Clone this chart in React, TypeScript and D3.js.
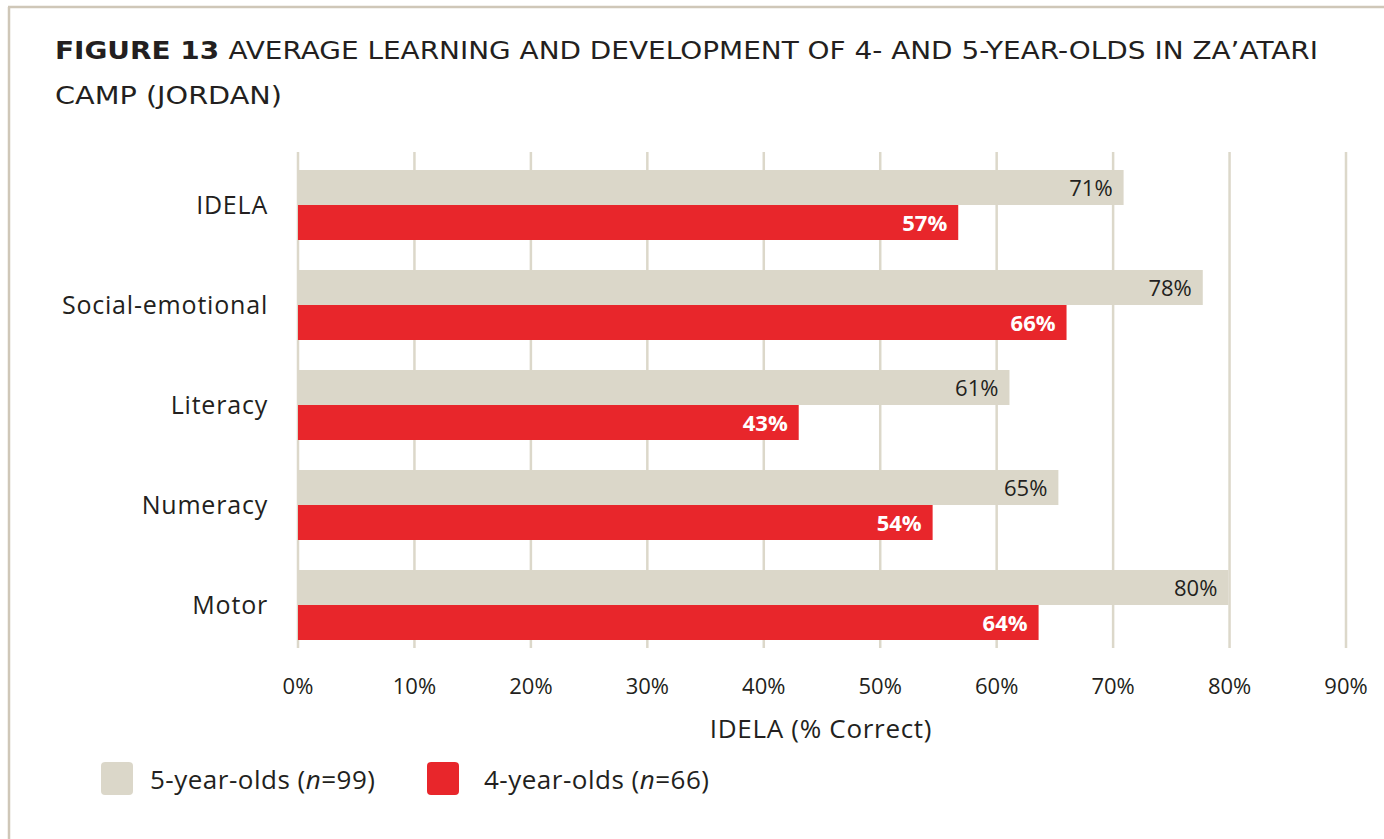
import React from 'react'
import * as d3 from 'd3'

const categories = ['IDELA', 'Social-emotional', 'Literacy', 'Numeracy', 'Motor']
const fiveYear = [70.9, 77.7, 61.1, 65.3, 79.9]
const fourYear = [56.7, 66.0, 43.0, 54.5, 63.6]
const labelsFive = ['71%', '78%', '61%', '65%', '80%']
const labelsFour = ['57%', '66%', '43%', '54%', '64%']
const ticks = [0, 10, 20, 30, 40, 50, 60, 70, 80, 90]
const seriesNames = ['5-year-olds', '4-year-olds']
const seriesN = ['99', '66']

const W = 1384
const H = 839
const GREY = '#dbd7c9'
const RED = '#e8262b'
const INK = '#231f20'
const FONT = '"Open Sans", Lato, sans-serif'
const TITLE_FONT = '"DejaVu Sans", "Open Sans", sans-serif'

export default function App() {
  const x = d3.scaleLinear().domain([0, 90]).range([298, 1346])
  const y = d3.scaleBand<string>()
    .domain(categories)
    .range([155, 655])
    .paddingInner(0.3)
    .paddingOuter(0.15)
  const sub = d3.scaleBand<string>().domain(seriesNames).range([0, y.bandwidth()])
  const colors = [GREY, RED]

  const rows = categories.map((c, i) => ({
    name: c,
    vals: [fiveYear[i], fourYear[i]],
    labels: [labelsFive[i], labelsFour[i]],
  }))

  return (
    <div style={{ position: 'absolute', left: 0, top: 0 }}>
      <svg width={W} height={H} style={{ display: 'block', fontFamily: FONT }}>
        <rect x={0} y={0} width={W} height={H} fill="#fff" />
        {/* frame */}
        <line x1={8} x2={W} y1={7} y2={7} stroke="#cfc7b8" strokeWidth={2.5} />
        <line x1={9} x2={9} y1={7} y2={H} stroke="#cfc7b8" strokeWidth={2.5} />

        <g fontFamily={TITLE_FONT}>
          <text x={55} y={59} fontSize={24} fill={INK} textLength={1263} lengthAdjust="spacingAndGlyphs">
            <tspan fontWeight={700}>FIGURE 13</tspan>
            <tspan dx={8}>AVERAGE LEARNING AND DEVELOPMENT OF 4- AND 5-YEAR-OLDS IN ZA’ATARI</tspan>
          </text>
          <text x={55} y={104} fontSize={24} fill={INK} textLength={227} lengthAdjust="spacingAndGlyphs">CAMP (JORDAN)</text>
        </g>

        {/* grid */}
        {ticks.map((t) => (
          <g key={t}>
            <line x1={x(t)} x2={x(t)} y1={152} y2={648} stroke="#dcd8ca" strokeWidth={2.5} />
            <text x={x(t)} y={694} textAnchor="middle" fontSize={22} fill={INK}>{t}%</text>
          </g>
        ))}

        {/* bars */}
        {rows.map((r) => (
          <g key={r.name} transform={`translate(0,${y(r.name)})`}>
            {r.vals.map((v, j) => {
              const by = sub(seriesNames[j]) as number
              const bh = sub.bandwidth()
              return (
                <g key={j}>
                  <rect x={x(0)} y={by} width={x(v) - x(0)} height={bh} fill={colors[j]} />
                  <text
                    x={x(v) - 11}
                    y={by + bh / 2 + 8}
                    textAnchor="end"
                    fontSize={22}
                    fontWeight={j === 1 ? 700 : 400}
                    fill={j === 1 ? '#fff' : INK}
                  >
                    {r.labels[j]}
                  </text>
                </g>
              )
            })}
            <text x={268} y={y.bandwidth() / 2 + 9} textAnchor="end" fontSize={25} letterSpacing={0.8} fill={INK}>{r.name}</text>
          </g>
        ))}

        <text x={821} y={738} textAnchor="middle" fontSize={26} letterSpacing={0.7} fill={INK}>IDELA (% Correct)</text>

        {/* legend */}
        {seriesNames.map((s, i) => {
          const lx = i === 0 ? 101 : 427
          const tx = i === 0 ? 150 : 484
          return (
            <g key={s}>
              <rect x={lx} y={762} width={32} height={33} rx={4} fill={colors[i]} />
              <text x={tx} y={789} fontSize={26} letterSpacing={0.5} fill={INK}>
                {s} (<tspan fontStyle="italic">n</tspan>={seriesN[i]})
              </text>
            </g>
          )
        })}
      </svg>
    </div>
  )
}
